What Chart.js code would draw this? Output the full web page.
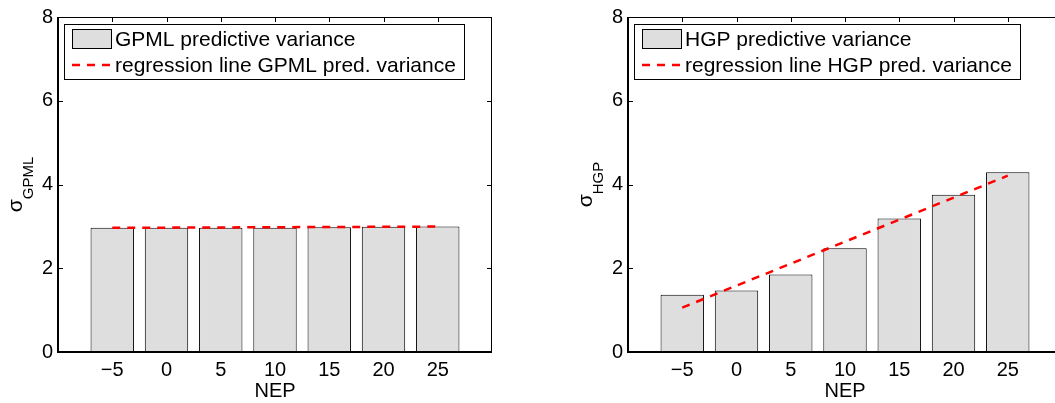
<!DOCTYPE html>
<html>
<head>
<meta charset="utf-8">
<script src="https://cdn.jsdelivr.net/npm/chart.js@4.4.1/dist/chart.umd.min.js"></script>
<style>
  html, body { margin: 0; padding: 0; background: #fff; overflow: hidden; width: 1055px; height: 403px; }
  canvas { position: absolute; top: 0; }
  #gpmlChart { left: 0; }
  #hgpChart { left: 570px; }
</style>
</head>
<body>
<canvas id="gpmlChart" width="530" height="403"></canvas>
<canvas id="hgpChart" width="530" height="403"></canvas>
<script>
// NEP levels (x positions of the bars)
const nepLevels = [-5, 0, 5, 10, 15, 20, 25];
// Predictive standard deviation per NEP level
const gpmlVariance = [2.97, 2.965, 2.965, 2.97, 2.98, 2.99, 3.00];
const hgpVariance  = [1.37, 1.47, 1.85, 2.48, 3.19, 3.755, 4.29];
// Regression line end points
const trendNep  = [-5, 25];
const gpmlTrend = [2.965, 2.995];
const hgpTrend  = [1.06, 4.21];
// Axis ticks
const yTickValues = [0, 2, 4, 6, 8];
const xTickValues = [-5, 0, 5, 10, 15, 20, 25];

const FONT = '"Liberation Sans", Arial, Helvetica, sans-serif';
const BAR_FILL = '#dedede';
const TREND_RED = '#ff0000';
const TREND_DASH = [8, 7];

const fmtNep = v => (v < 0 ? '\u2212' + Math.abs(v) : String(v));

// Box frame around the plot area with inward tick marks
const framePlugin = {
  id: 'boxFrame',
  afterDatasetsDraw(chart) {
    const { ctx, chartArea: a, scales } = chart;
    ctx.save();
    ctx.strokeStyle = '#000';
    // top and right edges
    ctx.lineWidth = 1;
    ctx.beginPath();
    ctx.moveTo(a.left, a.top + 0.5); ctx.lineTo(a.right, a.top + 0.5);
    ctx.moveTo(a.right - 0.5, a.top); ctx.lineTo(a.right - 0.5, a.bottom);
    scales.y.ticks.forEach(t => {
      const y = Math.round(scales.y.getPixelForValue(t.value)) + 0.5;
      ctx.moveTo(a.left, y); ctx.lineTo(a.left + 5, y);
      ctx.moveTo(a.right, y); ctx.lineTo(a.right - 5, y);
    });
    scales.x.ticks.forEach(t => {
      const x = Math.round(scales.x.getPixelForValue(t.value)) + 0.5;
      ctx.moveTo(x, a.top); ctx.lineTo(x, a.top + 5);
    });
    ctx.stroke();
    // left and bottom axes
    ctx.lineWidth = 2;
    ctx.beginPath();
    ctx.moveTo(a.left, a.top); ctx.lineTo(a.left, a.bottom + 1);
    ctx.moveTo(a.left - 1, a.bottom); ctx.lineTo(a.right, a.bottom);
    ctx.stroke();
    ctx.restore();
  }
};

// Rotated y-axis title: sigma with a subscript
const sigmaTitlePlugin = {
  id: 'sigmaTitle',
  afterDraw(chart, args, opts) {
    const { ctx, chartArea: a } = chart;
    const main = '\u03C3', sub = opts.sub;
    ctx.save();
    ctx.fillStyle = '#000';
    ctx.font = '21px ' + FONT;
    const wMain = ctx.measureText(main).width;
    ctx.font = '15px ' + FONT;
    const wSub = ctx.measureText(sub).width;
    const total = wMain + wSub;
    const cy = (a.top + a.bottom) / 2;
    ctx.translate(a.left - 36.5, cy);
    ctx.rotate(-Math.PI / 2);
    ctx.textBaseline = 'alphabetic';
    ctx.textAlign = 'left';
    ctx.font = '21px ' + FONT;
    ctx.fillText(main, -total / 2, 0);
    ctx.font = '15px ' + FONT;
    ctx.fillText(sub, -total / 2 + wMain, 11);
    ctx.restore();
  }
};

// Framed legend drawn inside the plot area, top-left
const boxLegendPlugin = {
  id: 'boxLegend',
  afterDraw(chart) {
    const { ctx, chartArea: a } = chart;
    const ds = chart.data.datasets;
    ctx.save();
    ctx.font = '21px ' + FONT;
    const textW = Math.max(...ds.map(d => ctx.measureText(d.label).width));
    const bx = a.left + 6, by = a.top + 7;
    const textX = bx + 51;
    const bw = Math.round(51 + textW + 8), bh = 55;
    ctx.fillStyle = '#fff';
    ctx.fillRect(bx, by, bw, bh);
    ctx.strokeStyle = '#000';
    ctx.lineWidth = 1;
    ctx.strokeRect(bx + 0.5, by + 0.5, bw, bh);
    ds.forEach((d, i) => {
      const cy = by + 15 + i * 26;
      if (d.type === 'line') {
        ctx.save();
        ctx.strokeStyle = d.borderColor;
        ctx.lineWidth = d.borderWidth;
        ctx.setLineDash(d.borderDash);
        ctx.beginPath();
        ctx.moveTo(bx + 8, cy); ctx.lineTo(bx + 48, cy);
        ctx.stroke();
        ctx.restore();
      } else {
        ctx.fillStyle = d.backgroundColor;
        ctx.fillRect(bx + 8, cy - 10, 40, 20);
        ctx.strokeStyle = '#000';
        ctx.strokeRect(bx + 8.5, cy - 9.5, 39, 19);
      }
      ctx.fillStyle = '#000';
      ctx.textBaseline = 'middle';
      ctx.textAlign = 'left';
      ctx.fillText(d.label, textX, cy + 1);
    });
    ctx.restore();
  }
};

function buildChart(canvasId, name, values, trend) {
  return new Chart(document.getElementById(canvasId), {
    type: 'bar',
    data: {
      datasets: [
        {
          label: name + ' predictive variance',
          data: nepLevels.map((x, i) => ({ x, y: values[i] })),
          backgroundColor: BAR_FILL,
          borderColor: '#000',
          borderWidth: 1,
          barPercentage: 0.8,
          categoryPercentage: 1,
          order: 2
        },
        {
          type: 'line',
          label: 'regression line ' + name + ' pred. variance',
          data: trendNep.map((x, i) => ({ x, y: trend[i] })),
          borderColor: TREND_RED,
          borderWidth: 2.5,
          borderDash: TREND_DASH,
          pointRadius: 0,
          fill: false,
          tension: 0,
          order: 1
        }
      ]
    },
    options: {
      responsive: false,
      animation: false,
      devicePixelRatio: 1,
      layout: { padding: { top: 15, right: 38, left: 0, bottom: 0 } },
      plugins: {
        legend: { display: false },
        tooltip: { enabled: false },
        sigmaTitle: { sub: name }
      },
      scales: {
        x: {
          type: 'linear',
          offset: false,
          min: -10,
          max: 30,
          afterBuildTicks: s => { s.ticks = xTickValues.map(v => ({ value: v })); },
          afterFit: s => { s.height = 51; },
          grid: { display: false, drawTicks: false, offset: false },
          border: { display: false },
          ticks: {
            color: '#000',
            font: { family: FONT, size: 20 },
            padding: 6,
            maxRotation: 0,
            autoSkip: false,
            callback: v => fmtNep(v)
          },
          title: {
            display: true,
            text: 'NEP',
            color: '#000',
            font: { family: FONT, size: 20 },
            padding: { top: 0, bottom: 0 }
          }
        },
        y: {
          min: 0,
          max: 8,
          afterBuildTicks: s => { s.ticks = yTickValues.map(v => ({ value: v })); },
          afterFit: s => { s.width = 58; },
          grid: { display: false, drawTicks: false },
          border: { display: false },
          ticks: {
            color: '#000',
            font: { family: FONT, size: 20 },
            padding: 5
          }
        }
      }
    },
    plugins: [framePlugin, sigmaTitlePlugin, boxLegendPlugin]
  });
}

buildChart('gpmlChart', 'GPML', gpmlVariance, gpmlTrend);
buildChart('hgpChart', 'HGP', hgpVariance, hgpTrend);
</script>
</body>
</html>
